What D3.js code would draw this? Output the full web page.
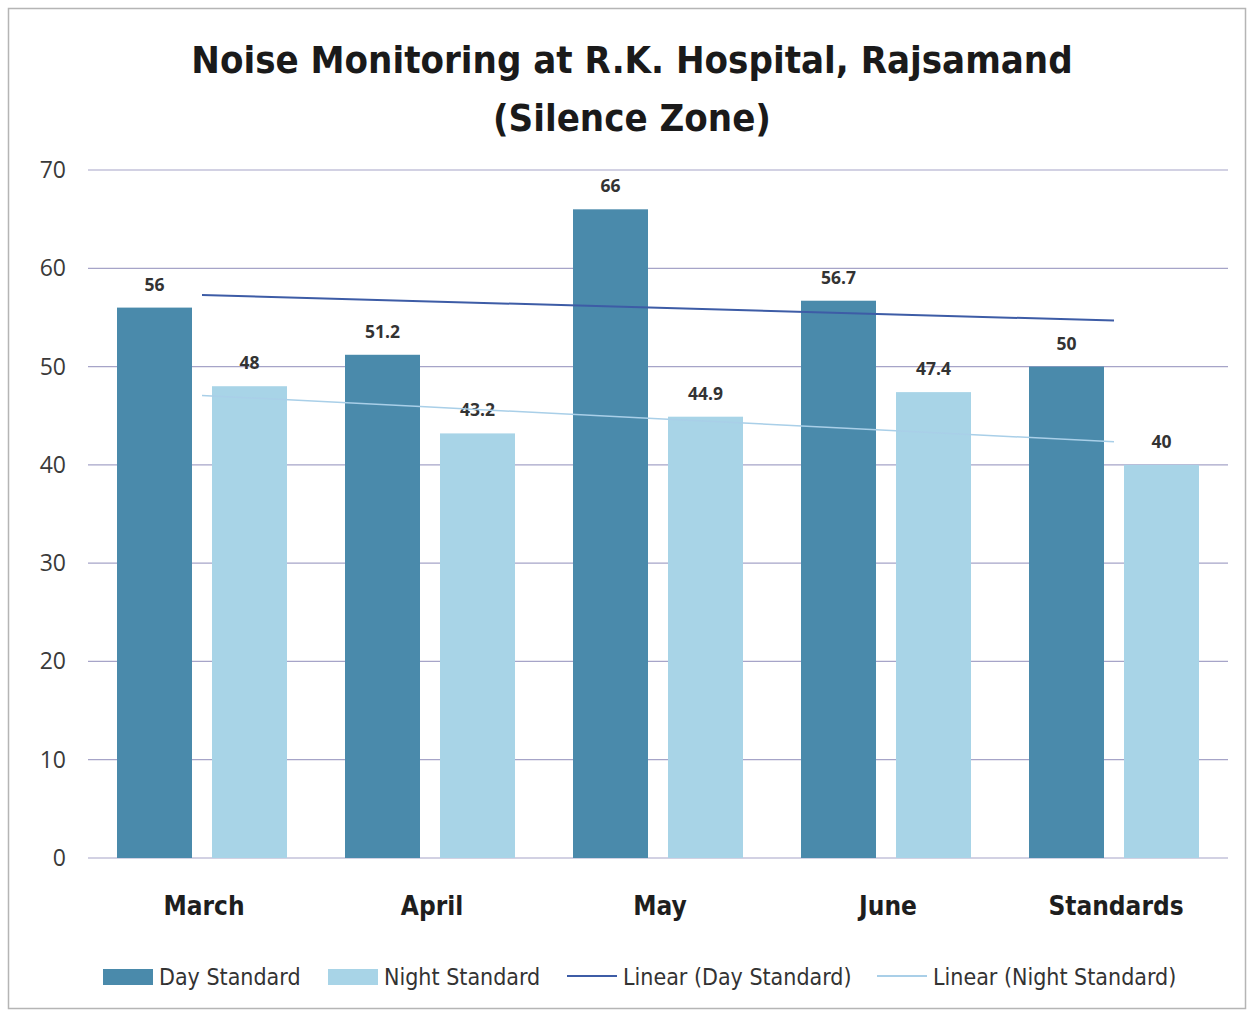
<!DOCTYPE html>
<html>
<head>
<meta charset="utf-8">
<script src="https://cdn.jsdelivr.net/npm/d3@7"></script>
<style>
  body { margin: 0; background: #fff; }
  svg text { font-family: "Liberation Sans Narrow", "DejaVu Sans Condensed", "Open Sans", sans-serif; }
</style>
</head>
<body>
<svg id="chart" width="1255" height="1014"></svg>
<script>
// Chart data
var categories = ["March", "April", "May", "June", "Standards"];
var dayValues = [56, 51.2, 66, 56.7, 50];
var nightValues = [48, 43.2, 44.9, 47.4, 40];
var yTicks = [0, 10, 20, 30, 40, 50, 60, 70];
var seriesNames = ["Day Standard", "Night Standard"];

var dayColor = "#4a8aab";
var nightColor = "#a8d4e7";
var dayTrendColor = "#3d5ca6";
var nightTrendColor = "#a9cfe8";
var gridColor = "#a6a4c8";

var svg = d3.select("#chart");

// Outer frame
svg.append("rect")
    .attr("x", 8.5).attr("y", 8.5)
    .attr("width", 1237).attr("height", 1000)
    .style("fill", "#fff")
    .style("stroke", "#b5b5b5")
    .style("stroke-width", 1.5);

// Title
var title = svg.append("text")
    .attr("x", 632)
    .attr("text-anchor", "middle")
    .style("font-weight", "bold")
    .style("font-size", "38px")
    .style("fill", "#1a1a1a");
title.append("tspan").attr("x", 632).attr("y", 73).text("Noise Monitoring at R.K. Hospital, Rajsamand");
title.append("tspan").attr("x", 632).attr("y", 131).text("(Silence Zone)");

// Plot area
var plotLeft = 88, plotRight = 1228, plotTop = 170, plotBottom = 858;

var x = d3.scaleBand()
    .domain(categories)
    .range([plotLeft, plotRight]);

var y = d3.scaleLinear()
    .domain([0, 70])
    .range([plotBottom, plotTop]);

var barWidth = 75;
var barGap = 20;

// Gridlines
svg.append("g").selectAll("line")
    .data(yTicks)
    .enter()
    .append("line")
    .attr("x1", plotLeft).attr("x2", plotRight)
    .attr("y1", function (d) { return y(d); })
    .attr("y2", function (d) { return y(d); })
    .style("stroke", gridColor)
    .style("stroke-width", 1.2);

// Y tick labels
svg.append("g").selectAll("text")
    .data(yTicks)
    .enter()
    .append("text")
    .attr("x", 66)
    .attr("y", function (d) { return y(d) + 8; })
    .attr("text-anchor", "end")
    .style("font-size", "23px")
    .style("fill", "#3a3a3a")
    .style("font-family", "'Open Sans', sans-serif")
    .text(function (d) { return d; });

// Bars
var series = [
    { name: seriesNames[0], values: dayValues, color: dayColor, offset: -(barGap / 2 + barWidth) },
    { name: seriesNames[1], values: nightValues, color: nightColor, offset: barGap / 2 }
];

series.forEach(function (s) {
    var g = svg.append("g");
    g.selectAll("rect")
        .data(s.values)
        .enter()
        .append("rect")
        .attr("x", function (d, i) { return x(categories[i]) + x.bandwidth() / 2 + s.offset; })
        .attr("y", function (d) { return y(d); })
        .attr("width", barWidth)
        .attr("height", function (d) { return y(0) - y(d); })
        .style("fill", s.color);

    g.selectAll("text")
        .data(s.values)
        .enter()
        .append("text")
        .attr("x", function (d, i) { return x(categories[i]) + x.bandwidth() / 2 + s.offset + barWidth / 2; })
        .attr("y", function (d) { return y(d) - 17; })
        .attr("text-anchor", "middle")
        .style("font-size", "17.5px")
        .style("font-weight", "bold")
        .style("fill", "#333")
        .style("font-family", "'Open Sans', sans-serif")
        .text(function (d) { return d; });
});

// Linear trendlines (least squares over category index)
function trend(values) {
    var n = values.length;
    var xm = (n + 1) / 2;
    var ym = d3.mean(values);
    var num = 0, den = 0;
    values.forEach(function (v, i) {
        num += (i + 1 - xm) * (v - ym);
        den += (i + 1 - xm) * (i + 1 - xm);
    });
    var slope = num / den;
    return values.map(function (v, i) { return ym + slope * (i + 1 - xm); });
}

var line = d3.line()
    .x(function (d, i) { return x(categories[i]) + x.bandwidth() / 2; })
    .y(function (d) { return y(d); });

svg.append("path")
    .attr("d", line(trend(dayValues)))
    .style("fill", "none")
    .style("stroke", dayTrendColor)
    .style("stroke-width", 2);

svg.append("path")
    .attr("d", line(trend(nightValues)))
    .style("fill", "none")
    .style("stroke", nightTrendColor)
    .style("stroke-width", 1.5);

// Category labels
svg.append("g").selectAll("text")
    .data(categories)
    .enter()
    .append("text")
    .attr("x", function (d) { return x(d) + x.bandwidth() / 2 + 2; })
    .attr("y", 915)
    .attr("text-anchor", "middle")
    .style("font-size", "26px")
    .style("font-weight", "bold")
    .style("fill", "#1e1e1e")
    .text(function (d) { return d; });

// Legend
var legendItems = [
    { label: "Day Standard", type: "rect", color: dayColor, x: 103 },
    { label: "Night Standard", type: "rect", color: nightColor, x: 328 },
    { label: "Linear (Day Standard)", type: "line", color: dayTrendColor, x: 567 },
    { label: "Linear (Night Standard)", type: "line", color: nightTrendColor, x: 877 }
];

var legend = svg.append("g");
legendItems.forEach(function (item) {
    if (item.type === "rect") {
        legend.append("rect")
            .attr("x", item.x).attr("y", 969)
            .attr("width", 50).attr("height", 16)
            .style("fill", item.color);
    } else {
        legend.append("line")
            .attr("x1", item.x).attr("x2", item.x + 50)
            .attr("y1", 976).attr("y2", 976)
            .style("stroke", item.color)
            .style("stroke-width", 2);
    }
    legend.append("text")
        .attr("x", item.x + 56)
        .attr("y", 985)
        .style("font-size", "23px")
        .style("fill", "#333")
        .text(item.label);
});
</script>
</body>
</html>
